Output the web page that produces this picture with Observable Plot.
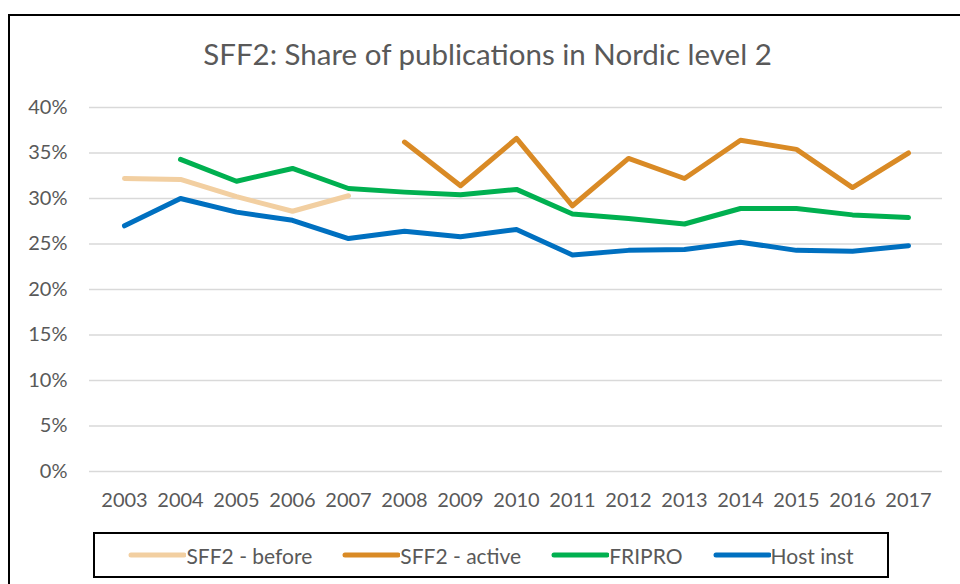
<!DOCTYPE html>
<html>
<head>
<meta charset="utf-8">
<script src="https://cdn.jsdelivr.net/npm/d3@7"></script>
<script src="https://cdn.jsdelivr.net/npm/@observablehq/plot@0.6"></script>
<style>
  html, body { margin: 0; padding: 0; background: #fff; overflow: hidden; }
  body { width: 960px; height: 584px; position: relative; font-family: Lato, "Open Sans", sans-serif; }
  #frame { position: absolute; left: 8px; top: 14px; width: 1000px; height: 620px; border: 2px solid #000; box-sizing: border-box; }
  #title { position: absolute; left: 0; width: 975px; top: 36px; text-align: center; font-size: 29.5px; color: #595959; }
  #chart { position: absolute; left: 0; top: 0; }
  #legend { position: absolute; left: 93px; top: 532px; width: 796px; height: 46px; border: 2px solid #000; box-sizing: border-box;
            display: flex; align-items: center; justify-content: center; gap: 30px; font-size: 21px; color: #595959; background: #fff; }
  .item { display: flex; align-items: center; }
</style>
</head>
<body>
<div id="frame"></div>
<div id="title">SFF2: Share of publications in Nordic level 2</div>
<div id="chart"></div>
<div id="legend"></div>
<script>
const years = [2003, 2004, 2005, 2006, 2007, 2008, 2009, 2010, 2011, 2012, 2013, 2014, 2015, 2016, 2017];
const seriesNames = ["SFF2 - before", "SFF2 - active", "FRIPRO", "Host inst"];
const seriesColors = ["#F2CFA1", "#D98A25", "#00B050", "#0070C0"];
const sffBefore = [32.2, 32.1, 30.2, 28.6, 30.3, null, null, null, null, null, null, null, null, null, null];
const sffActive = [null, null, null, null, null, 36.2, 31.4, 36.6, 29.2, 34.4, 32.2, 36.4, 35.4, 31.2, 35.0];
const fripro = [null, 34.3, 31.9, 33.3, 31.1, 30.7, 30.4, 31.0, 28.3, 27.8, 27.2, 28.9, 28.9, 28.2, 27.9];
const hostInst = [27.0, 30.0, 28.5, 27.6, 25.6, 26.4, 25.8, 26.6, 23.8, 24.3, 24.4, 25.2, 24.3, 24.2, 24.8];
const yTicks = [0, 0.05, 0.10, 0.15, 0.20, 0.25, 0.30, 0.35, 0.40];

const allSeries = [sffBefore, sffActive, fripro, hostInst];
const rows = [];
allSeries.forEach((vals, si) => {
  years.forEach((yr, i) => {
    rows.push({series: seriesNames[si], year: yr, value: vals[i] == null ? null : vals[i] / 100});
  });
});

const chart = Plot.plot({
  width: 960,
  height: 516,
  marginLeft: 89,
  marginRight: 18,
  marginTop: 107,
  marginBottom: 45,
  style: { fontFamily: "Lato, 'Open Sans', sans-serif", fontSize: "20px", color: "#595959", background: "transparent" },
  x: { type: "point", domain: years, padding: 0.5, label: null },
  y: { domain: [0, 0.4], label: null },
  color: { domain: seriesNames, range: seriesColors },
  marks: [
    Plot.gridY(yTicks, { stroke: "#d9d9d9", strokeOpacity: 1, strokeWidth: 1.5 }),
    Plot.axisY({ ticks: yTicks, tickFormat: d3.format(".0%"), tickSize: 0, tickPadding: 22, fill: "#595959", label: null }),
    Plot.axisX({ tickSize: 0, tickPadding: 21, tickFormat: d => String(d), fill: "#595959", label: null }),
    Plot.line(rows, { x: "year", y: "value", z: "series", stroke: "series", strokeWidth: 5, strokeLinecap: "round", strokeLinejoin: "round", defined: d => d.value != null })
  ]
});
document.getElementById("chart").appendChild(chart);

const legend = document.getElementById("legend");
seriesNames.forEach((name, i) => {
  const item = document.createElement("div");
  item.className = "item";
  item.innerHTML = `<svg width="58" height="10"><line x1="3" y1="5" x2="56" y2="5" stroke="${seriesColors[i]}" stroke-width="5" stroke-linecap="round"/></svg><span>${name}</span>`;
  legend.appendChild(item);
});
</script>
</body>
</html>
